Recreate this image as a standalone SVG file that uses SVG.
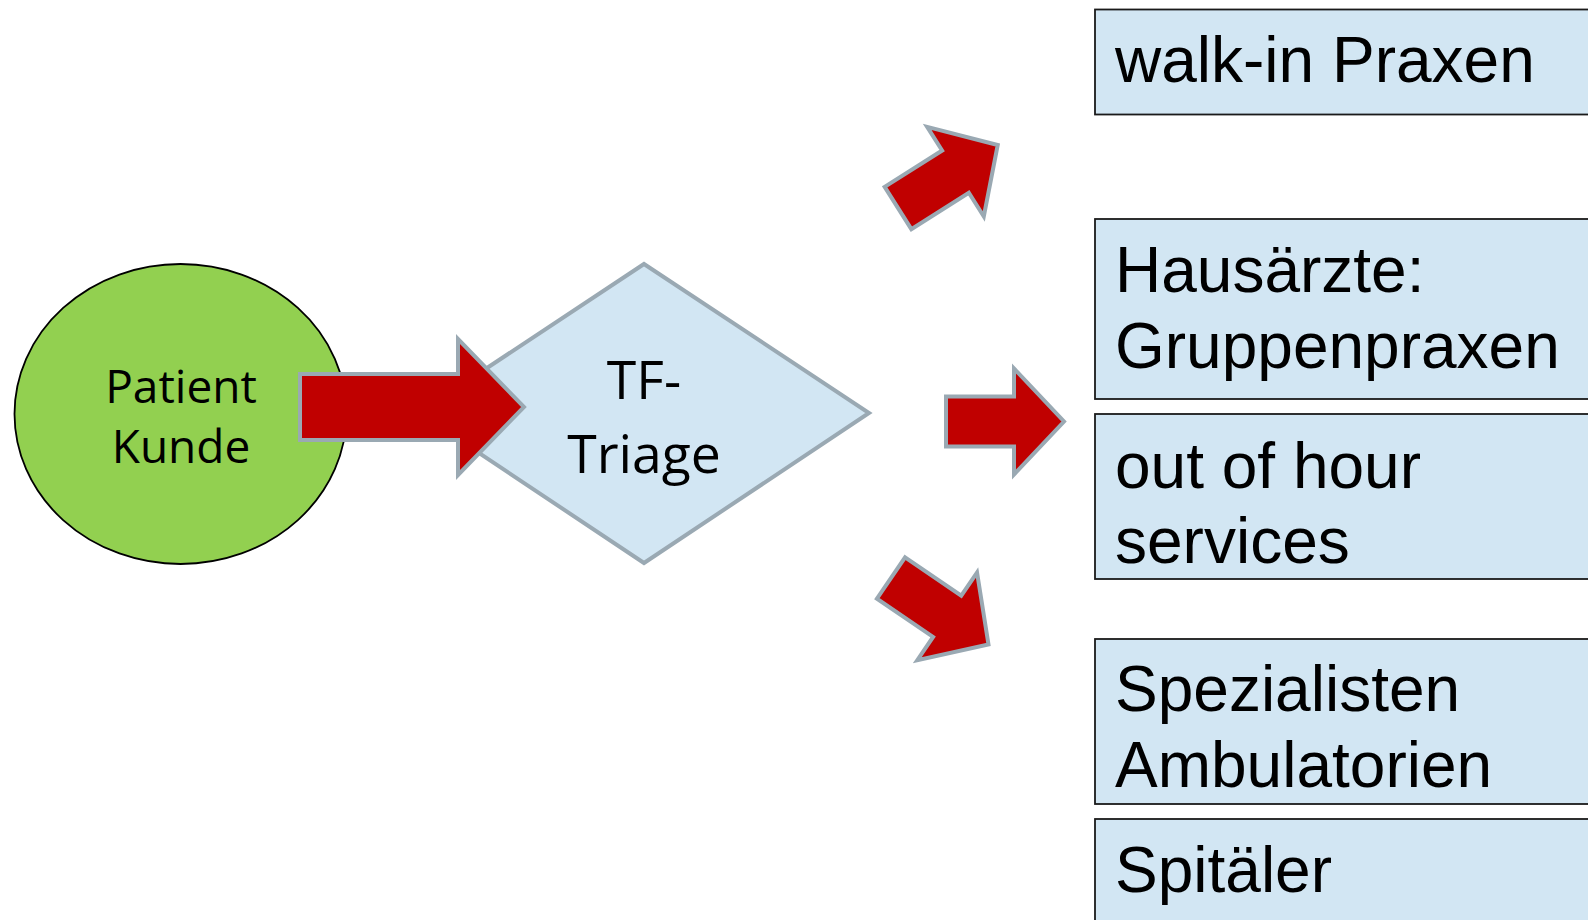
<svg xmlns="http://www.w3.org/2000/svg" width="1588" height="920" viewBox="0 0 1588 920">
<style>
.box{fill:#d2e6f3;stroke:#1a1a1a;stroke-width:1.8}
.bt{font-family:"Liberation Sans",Arial,sans-serif;font-size:64px;fill:#000}
.ct{font-family:"Open Sans","Noto Sans",sans-serif;fill:#000;text-anchor:middle}
.arr{fill:#c00000;stroke:#9aa9b3;stroke-width:4;stroke-linejoin:miter}
</style>
<defs>
<path id="sarrow" d="M0,-25 L68,-25 L68,-53 L118,0 L68,53 L68,25 L0,25 Z"/>
</defs>
<rect width="1588" height="920" fill="#fff"/>
<g id="patient">
<ellipse cx="180.5" cy="414" rx="166" ry="150" fill="#92d050" stroke="#000" stroke-width="1.8"/>
<text class="ct" x="181" y="403" font-size="46">Patient</text>
<text class="ct" x="181" y="463" font-size="46">Kunde</text>
</g>
<g id="triage">
<polygon points="644,264 869,413 644,563 419,413" fill="#d2e6f3" stroke="#9aa9b3" stroke-width="4"/>
<text class="ct" x="644" y="399" font-size="53.5">TF-</text>
<text class="ct" x="644" y="473" font-size="53.5">Triage</text>
</g>
<g id="walkin">
<rect class="box" x="1095" y="9.5" width="500" height="105"/>
<text class="bt" x="1115" y="82">walk-in Praxen</text>
</g>
<g id="hausaerzte">
<rect class="box" x="1095" y="219" width="500" height="180"/>
<text class="bt" x="1115" y="292">Hausärzte:</text>
<text class="bt" x="1115" y="368">Gruppenpraxen</text>
</g>
<g id="outofhour">
<rect class="box" x="1095" y="414" width="500" height="165"/>
<text class="bt" x="1115" y="488">out of hour</text>
<text class="bt" x="1115" y="563">services</text>
</g>
<g id="spezialisten">
<rect class="box" x="1095" y="639" width="500" height="165"/>
<text class="bt" x="1115" y="711">Spezialisten</text>
<text class="bt" x="1115" y="787">Ambulatorien</text>
</g>
<g id="spitaeler">
<rect class="box" x="1095" y="819" width="500" height="120"/>
<text class="bt" x="1115" y="892">Spitäler</text>
</g>
<g id="connectors">
<path class="arr" d="M300,374 L458,374 L458,339 L524,407 L458,475 L458,440 L300,440 Z"/>
<use href="#sarrow" class="arr" transform="translate(946,421.5)"/>
<use href="#sarrow" class="arr" transform="translate(898,208) rotate(-32.3)"/>
<use href="#sarrow" class="arr" transform="translate(891,578) rotate(34.3)"/>
</g>
</svg>
